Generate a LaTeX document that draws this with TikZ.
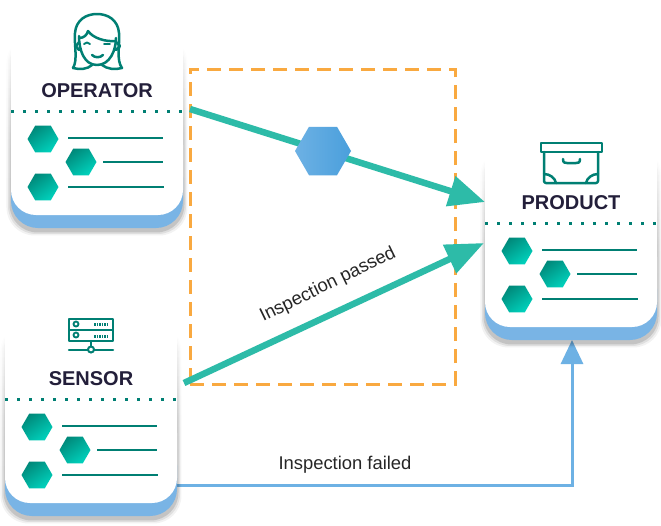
\documentclass[tikz,border=0pt]{standalone}
\usepackage{fontspec}
\setmainfont{Liberation Sans}
\usetikzlibrary{arrows.meta,shapes.geometric,fadings}
\definecolor{cardblue}{HTML}{79B4E5}
\definecolor{teal}{HTML}{2DBBA8}
\definecolor{icon}{HTML}{007F73}
\definecolor{ink}{HTML}{231F3A}
\definecolor{orange}{HTML}{F9A940}
\definecolor{wire}{HTML}{6DB1E4}
\definecolor{tokenb}{HTML}{4A9FDC}
\definecolor{hexa}{HTML}{00897A}
\definecolor{hexb}{HTML}{00D2BD}
\tikzfading[name=fadeup,top color=transparent!100,bottom color=transparent!0,middle color=transparent!20]
\tikzset{
  cardtitle/.style={font=\bfseries\fontsize{20}{22}\selectfont,text=ink,inner sep=0pt},
  wirelabel/.style={font=\fontsize{18.4}{20}\selectfont,text=black!85,inner sep=0pt},
  iconline/.style={draw=icon,line width=2.5pt,line cap=round,line join=round},
  listline/.style={draw=icon,line width=1.8pt},
  dotline/.style={draw=icon,line width=3pt,dash pattern=on 3pt off 9pt},
  tealarrow/.style={draw=teal,line width=6.5pt},
  minihex/.style={regular polygon,regular polygon sides=6,minimum size=31pt,inner sep=0pt,
     left color=hexa,right color=hexb,shading angle=35},
  tokenhex/.style={regular polygon,regular polygon sides=6,minimum size=56pt,inner sep=0pt,
     left color=wire,right color=tokenb},
}
% #1 prefix, #2 dx, #3 dy, #4 title, #5 title y
\newcommand{\infocard}[5]{%
  \begin{scope}[shift={(#2,#3)}]
    \foreach \w/\o in {9/.05,6/.08,3/.12}{
      \fill[black,opacity=\o,path fading=fadeup,rounded corners=28pt]
        (11-\w/2,35) rectangle (183+\w/2,231+\w/2);
    }
    \fill[cardblue,rounded corners=27pt] (11,150) rectangle (183,228);
    \fill[white] (11,30) rectangle (183,190);
    \fill[white,rounded corners=25pt] (11,120) rectangle (183,215);
    \coordinate (#1 E) at (183,111);
    \coordinate (#1 W) at (11,111);
    \node[cardtitle] (#1 title) at (97,#5) {#4};
    \draw[dotline] (#1 W) -- (#1 E);
    \node[minihex] (#1 h1) at (43,139) {};
    \node[minihex] (#1 h2) at (81,162) {};
    \node[minihex] (#1 h3) at (43,187) {};
    \coordinate (#1 l1) at (163,138);
    \coordinate (#1 l2) at (163,162);
    \coordinate (#1 l3) at (164,187);
    \draw[listline] (68,138) -- (#1 l1);
    \draw[listline] (103,162) -- (#1 l2);
    \draw[listline] (68,187) -- (#1 l3);
  \end{scope}}
\begin{document}
\begin{tikzpicture}[x=1pt,y=-1pt]
\useasboundingbox (0,0) rectangle (661,525);
\fill[white] (0,0) rectangle (661,525);

% dashed region
\node[draw=orange,line width=3pt,dash pattern=on 14pt off 8pt,minimum width=265pt,minimum height=315pt,inner sep=0pt] (region) at (322.5,226.5) {};

% blue connector below the cards
\coordinate (failstart) at (170,485);
\coordinate (failcorner) at (572,485);
\coordinate (failend) at (572,340);
\draw[wire,line width=3pt,-{Triangle[length=24pt,width=22pt]}] (failstart) -- (failcorner) -- (failend);

% cards
\infocard{op}{0}{0}{OPERATOR}{91}
\infocard{sn}{-6}{288}{SENSOR}{91}
\infocard{pr}{474}{112}{PRODUCT}{91}

% teal connectors
\coordinate (opout) at (190,109);
\coordinate (prin1) at (485,202);
\coordinate (snout) at (184,383);
\coordinate (prin2) at (484,243);
\draw[tealarrow,-{Triangle[length=36pt,width=30pt]}] (opout) -- (prin1);
\draw[tealarrow,-{Triangle[length=38pt,width=30pt]}] (snout) -- (prin2);
\node[tokenhex] (token) at (323,151) {};

% labels
\node[wirelabel,rotate=26] (passed) at (328,285) {Inspection passed};
\node[wirelabel] (failed) at (345,465) {Inspection failed};

% operator icon
\draw[iconline] (73,68) .. controls (78,60) and (74,45) .. (75,33)
  .. controls (76,20) and (86,14) .. (97,14) .. controls (108,14) and (118,20) .. (119,33)
  .. controls (120,45) and (116,60) .. (122,68)
  .. controls (115,70) and (107,69) .. (102,65);
\draw[iconline] (73,68) .. controls (80,70) and (88,69) .. (92,65);
\draw[iconline] (79,36) .. controls (79,50) and (84,65) .. (97,65) .. controls (110,65) and (116,50) .. (116,38);
\draw[iconline] (79,38) .. controls (84,38) and (87,35) .. (88,31) .. controls (93,38) and (105,42) .. (116,41);
\draw[iconline] (79,42) -- (76,46) -- (79,50);
\draw[iconline] (116,42) -- (120,46) -- (116,50);
\draw[iconline,line width=1.8pt] (84,44) .. controls (86,42) and (88,42) .. (90,44);
\draw[iconline,line width=1.8pt] (104,44) -- (110,44);
\draw[iconline] (92,55) .. controls (95,58) and (100,58) .. (103,55);

% sensor icon
\draw[iconline] (69,319) rectangle (113,330);
\draw[iconline] (69,330) rectangle (113,341);
\draw[iconline] (91,341) -- (91,349);
\draw[iconline] (69,350) -- (113,350);
\fill[white,draw=icon,line width=2pt] (91,349.5) circle (3pt);
\draw[icon,line width=1.8pt] (76,324) circle (2.5pt);
\draw[icon,line width=1.8pt] (76,335) circle (2.5pt);
\draw[icon,line width=3pt,dash pattern=on 1.5pt off 1pt] (94,324.5) -- (108,324.5);
\draw[icon,line width=3pt,dash pattern=on 1.5pt off 1pt] (94,336) -- (108,336);

% product icon
\draw[iconline] (541,143) rectangle (602,152);
\draw[iconline,rounded corners=2pt] (544,152) -- (544,183) -- (598,183) -- (598,152);
\draw[iconline] (563,159) .. controls (563,163) and (565,163) .. (567,163) -- (576,163) .. controls (578,163) and (580,163) .. (580,159);
\draw[iconline] (544,174) .. controls (550,174) and (555,178) .. (556,183);
\draw[iconline] (598,174) .. controls (592,174) and (587,178) .. (586,183);
\end{tikzpicture}
\end{document}
